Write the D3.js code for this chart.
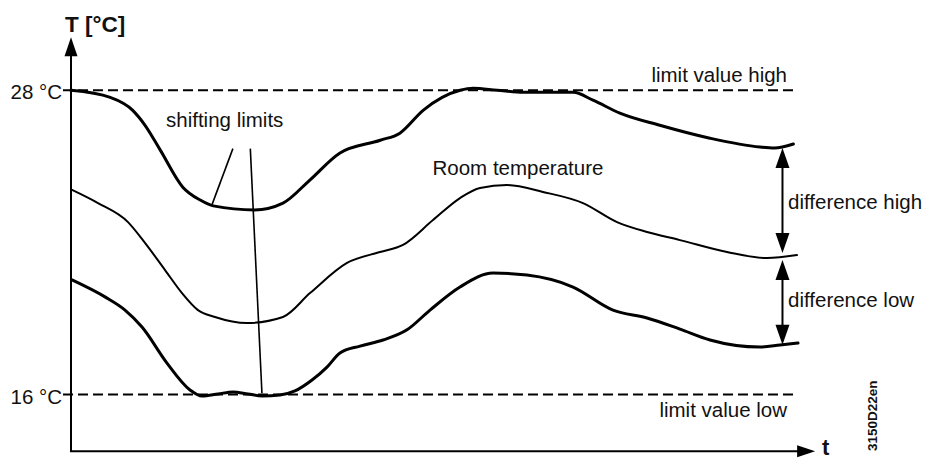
<!DOCTYPE html>
<html>
<head>
<meta charset="utf-8">
<script src="https://cdn.jsdelivr.net/npm/d3@7"></script>
<style>
  html, body { margin: 0; padding: 0; background: #fff; }
  svg text { font-family: Arial, "Liberation Sans", sans-serif; fill: #111; }
</style>
</head>
<body>
<script>
// ---------- data ----------
const timeUpper = [0, 5.4, 8.5, 10.2, 12.3, 15.4, 17.8, 19.6, 25.3, 29.2, 32.9, 37.0, 42.6, 45.3, 48.5, 53.6, 55.4, 58.7, 62.3, 65.6, 69.2, 71.9, 75.6, 81.1, 88.0, 94.9, 96.9, 99.5];
const tempUpper = [28.0, 27.72, 27.21, 26.62, 25.64, 24.18, 23.67, 23.44, 23.28, 23.55, 24.46, 25.52, 26.03, 26.31, 27.21, 28.0, 28.08, 28.0, 27.92, 27.92, 27.92, 27.61, 27.10, 26.62, 26.11, 25.76, 25.72, 25.88];

const timeRoom = [0.14, 3.72, 7.85, 10.19, 12.95, 15.29, 17.49, 19.83, 24.24, 29.2, 32.92, 38.02, 42.56, 45.73, 49.86, 53.58, 56.34, 60.06, 65.01, 70.52, 75.21, 79.34, 83.88, 90.36, 95.87, 100];
const tempRoom = [24.07, 23.55, 22.80, 21.98, 20.91, 20.00, 19.33, 19.06, 18.82, 19.06, 20.00, 21.19, 21.62, 21.90, 22.88, 23.75, 24.15, 24.26, 23.99, 23.55, 22.80, 22.41, 22.09, 21.62, 21.38, 21.50];

const timeLower = [0.14, 4.68, 7.44, 9.78, 13.22, 16.39, 18.04, 20.25, 22.31, 24.38, 26.31, 28.79, 30.85, 33.20, 35.26, 37.05, 39.81, 42.98, 46.28, 49.45, 53.58, 58.13, 62.81, 69.15, 74.66, 79.34, 83.88, 88.02, 94.90, 97.66, 100.14];
const tempLower = [20.52, 19.85, 19.33, 18.66, 17.24, 16.18, 15.94, 16.02, 16.10, 16.02, 15.94, 15.98, 16.14, 16.57, 17.08, 17.64, 17.91, 18.15, 18.55, 19.33, 20.24, 20.79, 20.71, 20.24, 19.33, 19.02, 18.58, 18.15, 17.87, 17.95, 18.03];

const limitValues = [16, 28];
const limitTickLabels = ["16 °C", "28 °C"];

// annotation pointers (time, temp)
const pointerFrom = [[22.3, 25.70], [24.7, 25.70]];
const pointerTo   = [[19.4, 23.47], [26.3, 16.05]];
// difference arrows at t = 98
const diffTime = 98.0;
const diffHigh = [25.72, 21.58];
const diffLow  = [21.31, 17.96];

// ---------- drawing ----------
const W = 929, H = 459;
const svg = d3.select("body").append("svg").attr("width", W).attr("height", H);

const x = d3.scaleLinear().domain([0, 100]).range([71, 797]);
const y = d3.scaleLinear().domain([16, 28]).range([394.5, 90.3]);

const tAxisEnd = 102.5;      // x-axis arrow tip
const yAxisBottom = 13.76, yAxisTop = 30.09;
const FS = 20.5;

function arrowHead(tipX, tipY, dx, dy, len, wid) {
  const bx = tipX - dx * len, by = tipY - dy * len;
  const px = -dy * wid / 2, py = dx * wid / 2;
  return `M${tipX},${tipY}L${bx + px},${by + py}L${bx - px},${by - py}Z`;
}

// limit dashed lines
svg.append("g").selectAll("line").data(limitValues).join("line")
  .attr("x1", 63).attr("x2", x(100))
  .attr("y1", d => y(d)).attr("y2", d => y(d))
  .attr("stroke", "#000").attr("stroke-width", 2)
  .attr("stroke-dasharray", "10,5");

// y axis (labels)
const yAxis = d3.axisLeft(y).tickValues(limitValues).tickSize(0).tickPadding(9)
  .tickFormat((d, i) => limitTickLabels[i]);
const gy = svg.append("g").attr("transform", `translate(${x(0)},0)`).call(yAxis);
gy.select(".domain").remove();
gy.selectAll("text").attr("font-size", FS).attr("dy", "0.42em")
  .style("font-family", 'Arial, "Liberation Sans", sans-serif').attr("fill", "#111");

// axis lines
svg.append("line").attr("x1", x(0)).attr("x2", x(0))
  .attr("y1", y(yAxisBottom)).attr("y2", y(yAxisTop) + 15)
  .attr("stroke", "#000").attr("stroke-width", 2);
svg.append("path").attr("d", arrowHead(x(0), y(yAxisTop), 0, -1, 19, 13)).attr("fill", "#000");
svg.append("line").attr("x1", x(0) - 1).attr("x2", x(tAxisEnd) - 15)
  .attr("y1", y(yAxisBottom)).attr("y2", y(yAxisBottom))
  .attr("stroke", "#000").attr("stroke-width", 2);
svg.append("path").attr("d", arrowHead(x(tAxisEnd), y(yAxisBottom), 1, 0, 18, 12)).attr("fill", "#000");

// curves
const line = d3.line().x(d => x(d[0])).y(d => y(d[1])).curve(d3.curveMonotoneX);
const series = [
  { t: timeUpper, v: tempUpper, w: 3 },
  { t: timeRoom, v: tempRoom, w: 2 },
  { t: timeLower, v: tempLower, w: 3 }
];
svg.append("g").selectAll("path").data(series).join("path")
  .attr("d", s => line(s.t.map((t, i) => [t, s.v[i]])))
  .attr("fill", "none").attr("stroke", "#000")
  .attr("stroke-width", s => s.w).attr("stroke-linecap", "round").attr("stroke-linejoin", "round");

// pointer lines
svg.append("g").selectAll("line").data(pointerFrom).join("line")
  .attr("x1", d => x(d[0])).attr("y1", d => y(d[1]))
  .attr("x2", (d, i) => x(pointerTo[i][0])).attr("y2", (d, i) => y(pointerTo[i][1]))
  .attr("stroke", "#000").attr("stroke-width", 1.6);

// difference arrows
[diffHigh, diffLow].forEach(pair => {
  const xa = x(diffTime), ya = y(pair[0]), yb = y(pair[1]);
  svg.append("line").attr("x1", xa).attr("x2", xa).attr("y1", ya + 10).attr("y2", yb - 10)
    .attr("stroke", "#000").attr("stroke-width", 2);
  svg.append("path").attr("d", arrowHead(xa, ya, 0, -1, 20, 14)).attr("fill", "#000");
  svg.append("path").attr("d", arrowHead(xa, yb, 0, 1, 20, 14)).attr("fill", "#000");
});

// texts
const txt = (s, px, py, opts = {}) => svg.append("text").text(s)
  .attr("x", px).attr("y", py)
  .attr("font-size", opts.size || FS)
  .attr("font-weight", opts.bold ? "bold" : null)
  .attr("text-anchor", opts.anchor || "start");

txt("T [°C]", 65, 32, { size: 22.5, bold: true });
txt("shifting limits", 166, 127);
txt("Room temperature", 432.5, 175);
txt("limit value high", 787, 82, { anchor: "end" });
txt("limit value low", 787, 417, { anchor: "end" });
txt("difference high", 788, 209);
txt("difference low", 788, 307);
txt("t", 822, 455, { size: 22, bold: true });
svg.append("text").text("3150D22en")
  .attr("transform", "translate(877,451) rotate(-90)")
  .attr("font-size", 13.5).attr("font-weight", "bold");
</script>
</body>
</html>
